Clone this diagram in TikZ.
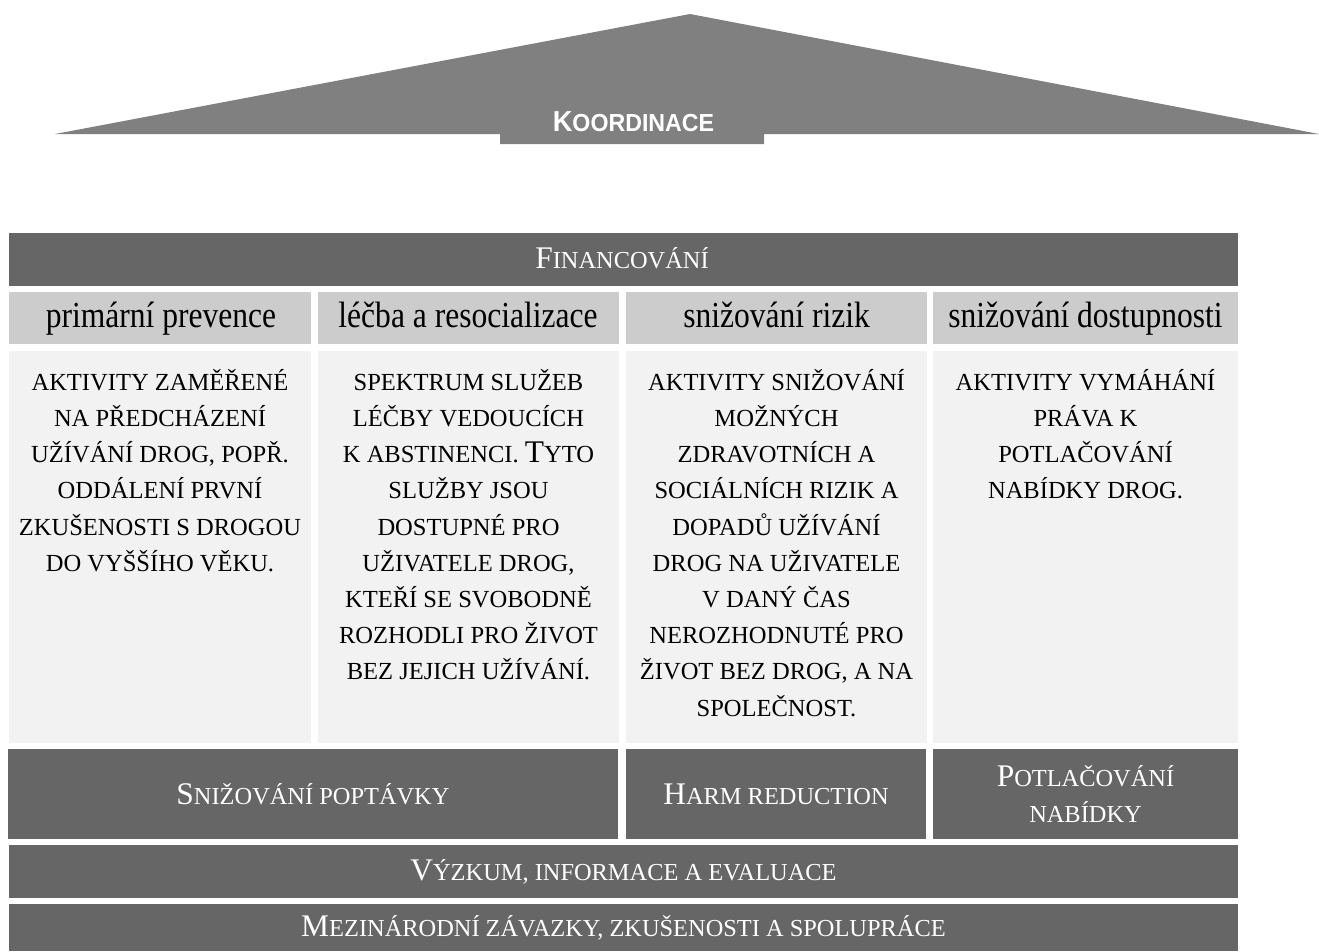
\documentclass[tikz,border=0pt]{standalone}
\usepackage{fontspec}
\setmainfont{Liberation Serif}
\newfontfamily\koordfont{Liberation Sans}[FakeStretch=0.94]
\newfontfamily\headfont{Liberation Serif}[FakeStretch=0.86]
\definecolor{roofgray}{HTML}{808080}
\definecolor{darkbar}{HTML}{666666}
\definecolor{headgray}{HTML}{CCCCCC}
\definecolor{cellgray}{HTML}{F2F2F2}
\newcommand\Cap[1]{{\fontsize{23.6}{27.15}\selectfont #1}}
\newcommand\KCap[1]{{\fontsize{21.7}{24}\selectfont #1}}
\tikzset{
  cell/.style n args={3}{rectangle, inner sep=0pt, fill=#1, minimum width=#2*0.75pt, minimum height=#3*0.75pt},
  darktext/.style={text=white, align=center, font=\fontsize{18.3}{27.15}\selectfont},
  headtext/.style={text=black, inner sep=0pt, anchor=base, font=\headfont\fontsize{27.5}{31}\selectfont},
  bodytext/.style={text=black, align=center, inner sep=0pt, anchor=north, font=\fontsize{18.4}{27.15}\selectfont},
  koordtext/.style={text=white, inner sep=0pt, anchor=base, font=\koordfont\bfseries\fontsize{18.5}{20}\selectfont},
}
\begin{document}
\begin{tikzpicture}[x=0.75pt,y=-0.75pt]
\useasboundingbox (0,0) rectangle (1319,951);
% roof
\fill[roofgray] (55,134) -- (690,14) -- (1319,134) -- (764,134) -- (764,144) -- (500,144) -- (500,134) -- cycle;
\node[koordtext] (koord) at (633.5,131.5) {\KCap{K}OORDINACE};
% financovani
\node[cell={darkbar}{1229}{53}] (fin) at (623.5,259.5) {};
\node[darktext, anchor=base] (fint) at (622,268.3) {\Cap{F}INANCOVÁNÍ};
% headers
\node[cell={headgray}{302}{52}] (h1) at (160,318) {};
\node[cell={headgray}{301}{52}] (h2) at (468.5,318) {};
\node[cell={headgray}{301}{52}] (h3) at (776.5,318) {};
\node[cell={headgray}{305}{52}] (h4) at (1085.5,318) {};
\node[headtext] (h1t) at (161,327) {primární prevence};
\node[headtext] (h2t) at (468,327) {léčba a resocializace};
\node[headtext] (h3t) at (776.5,327) {snižování rizik};
\node[headtext] (h4t) at (1085.5,327) {snižování dostupnosti};
% content cells
\node[cell={cellgray}{302}{392}] (c1) at (160,547) {};
\node[cell={cellgray}{301}{392}] (c2) at (468.5,547) {};
\node[cell={cellgray}{301}{392}] (c3) at (776.5,547) {};
\node[cell={cellgray}{305}{392}] (c4) at (1085.5,547) {};
\node[bodytext] (t1) at ([yshift=-10.5pt]c1.north) {\strut AKTIVITY ZAMĚŘENÉ\\NA PŘEDCHÁZENÍ\\UŽÍVÁNÍ DROG, POPŘ.\\ODDÁLENÍ PRVNÍ\\ZKUŠENOSTI S DROGOU\\DO VYŠŠÍHO VĚKU.};
\node[bodytext] (t2) at ([yshift=-10.5pt]c2.north) {\strut SPEKTRUM SLUŽEB\\LÉČBY VEDOUCÍCH\\K ABSTINENCI. \Cap{T}YTO\\SLUŽBY JSOU\\DOSTUPNÉ PRO\\UŽIVATELE DROG,\\KTEŘÍ SE SVOBODNĚ\\ROZHODLI PRO ŽIVOT\\BEZ JEJICH UŽÍVÁNÍ.};
\node[bodytext] (t3) at ([yshift=-10.5pt]c3.north) {\strut AKTIVITY SNIŽOVÁNÍ\\MOŽNÝCH\\ZDRAVOTNÍCH A\\SOCIÁLNÍCH RIZIK A\\DOPADŮ UŽÍVÁNÍ\\DROG NA UŽIVATELE\\V DANÝ ČAS\\NEROZHODNUTÉ PRO\\ŽIVOT BEZ DROG, A NA\\SPOLEČNOST.};
\node[bodytext] (t4) at ([yshift=-10.5pt]c4.north) {\strut AKTIVITY VYMÁHÁNÍ\\PRÁVA K\\POTLAČOVÁNÍ\\NABÍDKY DROG.};
% pillars base
\node[cell={darkbar}{610}{90}, darktext] (d1) at (313,794) {\Cap{S}NIŽOVÁNÍ POPTÁVKY};
\node[cell={darkbar}{300}{90}, darktext] (d2) at (776,794) {\Cap{H}ARM REDUCTION};
\node[cell={darkbar}{305}{90}, darktext] (d3) at (1085.5,794) {\Cap{P}OTLAČOVÁNÍ\\NABÍDKY};
% foundations
\node[cell={darkbar}{1229}{53}, darktext] (vyz) at (623.5,871.5) {\Cap{V}ÝZKUM, INFORMACE A EVALUACE};
\node[cell={darkbar}{1229}{47}, darktext] (mez) at (623.5,927.5) {\Cap{M}EZINÁRODNÍ ZÁVAZKY, ZKUŠENOSTI A SPOLUPRÁCE};
\end{tikzpicture}
\end{document}
